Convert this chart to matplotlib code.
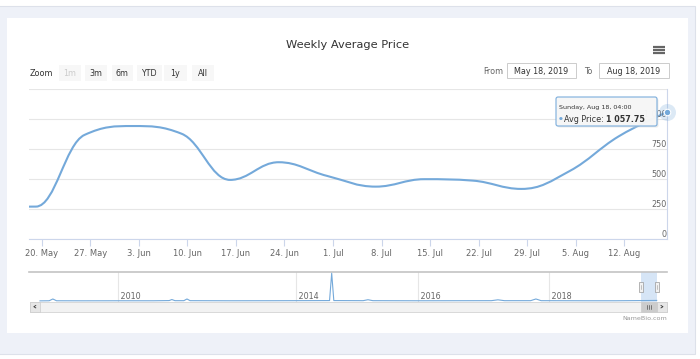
import numpy as np
import matplotlib
matplotlib.use("Agg")
import matplotlib.pyplot as plt
import matplotlib.dates as mdates
from matplotlib.path import Path
from matplotlib.patches import PathPatch, Rectangle, FancyBboxPatch
import pandas as pd

# weekly average price (points on Sundays, 04:00)
week_dates = pd.date_range("2019-05-12 04:00", "2019-08-18 04:00", freq="7D")
avg_price = [270, 272, 868, 942, 878, 494, 641, 527, 438, 500, 488, 419, 569, 855, 1057.75]

# full history shown in the navigator (fractional years)
nav_years = [2008.30, 2008.50, 2008.58, 2008.66, 2009.20, 2010.00, 2010.80, 2011.15, 2011.21,
             2011.28, 2011.48, 2011.55, 2011.62, 2012.50, 2013.50, 2014.55, 2014.585, 2014.62,
             2015.10, 2015.18, 2015.26, 2016.00, 2017.12, 2017.22, 2017.32, 2017.72, 2017.80,
             2017.88, 2018.60, 2019.00, 2019.38, 2019.63]
nav_values = [600, 700, 2600, 700, 650, 700, 700, 900, 2000, 800, 800, 2600, 800, 700, 750, 900,
              30000, 900, 800, 1800, 800, 700, 800, 1700, 800, 800, 2600, 800, 700, 700, 900, 1057]
nav_ticks = [2010, 2014, 2016, 2018]

zoom_buttons = ["1m", "3m", "6m", "YTD", "1y", "All"]
y_ticks = [0, 250, 500, 750, 1000, 1250]
range_from, range_to = "May 18, 2019", "Aug 18, 2019"

W, H = 700, 359
LINE = "#74a9da"
plt.rcParams["font.family"] = ["DejaVu Sans"]


def rect(x0, y0, x1, y1):
    return [x0 / W, 1 - y1 / H, (x1 - x0) / W, (y1 - y0) / H]


def hc_spline(xs, ys, smoothing=1.5):
    # same control points as the Highcharts spline series
    n = len(xs)
    left, right = list(zip(xs, ys)), list(zip(xs, ys))
    for i in range(1, n - 1):
        lx, ly, px, py, nx, ny = xs[i - 1], ys[i - 1], xs[i], ys[i], xs[i + 1], ys[i + 1]
        d = smoothing + 1
        lcx, lcy = (smoothing * px + lx) / d, (smoothing * py + ly) / d
        rcx, rcy = (smoothing * px + nx) / d, (smoothing * py + ny) / d
        corr = (rcy - lcy) * (rcx - px) / (rcx - lcx) + py - rcy
        lcy += corr
        rcy += corr
        if lcy > ly and lcy > py:
            lcy = max(ly, py); rcy = 2 * py - lcy
        elif lcy < ly and lcy < py:
            lcy = min(ly, py); rcy = 2 * py - lcy
        if rcy > ny and rcy > py:
            rcy = max(ny, py); lcy = 2 * py - rcy
        elif rcy < ny and rcy < py:
            rcy = min(ny, py); lcy = 2 * py - rcy
        left[i], right[i] = (lcx, lcy), (rcx, rcy)
    verts, codes = [(xs[0], ys[0])], [Path.MOVETO]
    for i in range(1, n):
        verts += [right[i - 1], left[i], (xs[i], ys[i])]
        codes += [Path.CURVE4] * 3
    return Path(verts, codes)


fig = plt.figure(figsize=(7, 3.59), dpi=100, facecolor="white")

# background / card / UI layer in pixel coordinates
bg = fig.add_axes([0, 0, 1, 1], zorder=0)
bg.set_xlim(0, W); bg.set_ylim(H, 0); bg.axis("off")
bg.add_patch(Rectangle((-2, 6), 697, 348, fc="#eef1f8", ec="#dde1ea", lw=0.8))
bg.add_patch(Rectangle((7.3, 18.3), 681, 314.4, fc="white", ec="none"))

bg.text(348, 45, "Weekly Average Price", ha="center", va="center", fontsize=8.2, color="#333333")
for yy in (47, 50, 53):
    bg.plot([653, 665], [yy, yy], color="#666666", lw=1.6, solid_capstyle="butt")

bg.text(29.5, 73, "Zoom", ha="left", va="center", fontsize=5.8, color="#333333")
btn_x = [(59, 80.7), (85, 107), (111.7, 133), (136.7, 161.7), (164, 186.7), (191.7, 214)]
for lab, (x0, x1) in zip(zoom_buttons, btn_x):
    bg.add_patch(Rectangle((x0, 65), x1 - x0, 16, fc="#f7f7f7", ec="none"))
    bg.text((x0 + x1) / 2, 73, lab, ha="center", va="center", fontsize=5.8,
            color="#cccccc" if lab == "1m" else "#333333")

bg.text(493, 71, "From", ha="center", va="center", fontsize=5.8, color="#666666")
bg.text(588, 71, "To", ha="center", va="center", fontsize=5.8, color="#666666")
for lab, (x0, x1) in zip([range_from, range_to], [(506.7, 576), (599.3, 668.7)]):
    bg.add_patch(Rectangle((x0, 63.3), x1 - x0, 15, fc="white", ec="#cccccc", lw=0.7))
    bg.text((x0 + x1) / 2, 71, lab, ha="center", va="center", fontsize=5.8, color="#333333")

# main chart
ax = fig.add_axes(rect(29, 89, 667, 239.3), zorder=1)
ax.set_facecolor("none")
xs = mdates.date2num(week_dates.to_pydatetime())
ax.add_patch(PathPatch(hc_spline(list(xs), avg_price), fill=False, ec=LINE, lw=1.5, zorder=3,
                       capstyle="round", joinstyle="round"))
ax.set_xlim(mdates.date2num(pd.Timestamp("2019-05-18 04:00")), xs[-1])
ax.set_ylim(0, 1250)
ax.set_yticks(y_ticks)
ax.grid(axis="y", color="#e6e6e6", lw=0.8)
ax.set_axisbelow(True)
for s in ("top", "left"):
    ax.spines[s].set_visible(False)
ax.spines["bottom"].set_color("#ccd6eb"); ax.spines["bottom"].set_linewidth(0.8)
ax.spines["right"].set_color("#ccd6eb"); ax.spines["right"].set_linewidth(0.8)
ax.tick_params(axis="y", length=0, labelleft=False, labelright=False)
for v in y_ticks[:-1]:
    ax.text(1.0, v, f"{v:,}".replace(",", " "), transform=ax.get_yaxis_transform(),
            ha="right", va="bottom", fontsize=5.8, color="#666666")
ax.xaxis.set_major_locator(mdates.WeekdayLocator(byweekday=mdates.MO))
ax.xaxis.set_major_formatter(plt.FuncFormatter(
    lambda v, p: f"{mdates.num2date(v).day}. {mdates.num2date(v).strftime('%b')}"))
ax.tick_params(axis="x", length=5, width=0.8, color="#ccd6eb", labelsize=6,
               labelcolor="#666666", pad=2)

# hovered point
ax.scatter([xs[-1]], [avg_price[-1]], s=150, color=LINE, alpha=0.25, lw=0, zorder=4, clip_on=False)
ax.scatter([xs[-1]], [avg_price[-1]], s=22, color=LINE, ec="white", lw=0.8, zorder=5, clip_on=False)

# navigator
nav_year_anchor = [2008.05, 2008.30, 2010, 2014, 2016, 2018, 2019.377, 2019.63, 2019.85]
nav_px_anchor = [29, 40, 118, 296, 418, 549, 640.7, 656.7, 667]
fwd = lambda v: np.interp(v, nav_year_anchor, nav_px_anchor)
inv = lambda v: np.interp(v, nav_px_anchor, nav_year_anchor)
nav = fig.add_axes(rect(29, 272.3, 667, 301.7), zorder=1)
nav.set_facecolor("none")
nav.set_xscale("function", functions=(fwd, inv))
nav.set_xlim(2008.05, 2019.85)
nav.set_ylim(-300, 31000)
nav.plot(nav_years, nav_values, color=LINE, lw=0.8, zorder=3)
for yr in nav_ticks:
    nav.axvline(yr, color="#e6e6e6", lw=0.8, zorder=1)
    nav.text(yr, 0.17, f" {yr}", transform=nav.get_xaxis_transform(), ha="left", va="center",
             fontsize=5.8, color="#666666")
nav.axvspan(2019.377, 2019.63, color="#cfe1f5", alpha=0.85, lw=0, zorder=2)
for s in nav.spines.values():
    s.set_visible(False)
nav.spines["top"].set_visible(True)
nav.spines["top"].set_color("#c4c4c4"); nav.spines["top"].set_linewidth(1.2)
nav.set_xticks([]); nav.set_yticks([])
nav.set_xticks([], minor=True)

# handles, scrollbar and credits drawn on the top layer
top = fig.add_axes([0, 0, 1, 1], zorder=3)
top.set_xlim(0, W); top.set_ylim(H, 0); top.axis("off")
for hx in (640.7, 656.7):
    top.add_patch(Rectangle((hx - 2.2, 282), 4.4, 10, fc="#f2f2f2", ec="#999999", lw=0.5))
    top.plot([hx, hx], [285, 289], color="#999999", lw=0.4)
top.add_patch(Rectangle((29.5, 301.7), 637.5, 10, fc="#f2f2f2", ec="#cccccc", lw=0.5))
top.add_patch(Rectangle((29.5, 301.7), 10.5, 10, fc="#e6e6e6", ec="#cccccc", lw=0.5))
top.add_patch(Rectangle((656.7, 301.7), 10.3, 10, fc="#e6e6e6", ec="#cccccc", lw=0.5))
top.add_patch(Rectangle((640.7, 301.7), 16, 10, fc="#cccccc", ec="#cccccc", lw=0.5))
for gx in (646.7, 648.7, 650.7):
    top.plot([gx, gx], [305, 308.5], color="#333333", lw=0.4)
top.plot([35.8, 33.8, 35.8], [305.5, 306.7, 307.9], color="#333333", lw=0.6)
top.plot([661, 663, 661], [305.5, 306.7, 307.9], color="#333333", lw=0.6)
top.text(667, 318, "NameBio.com", ha="right", va="center", fontsize=4.6, color="#999999")

# tooltip
top.add_patch(FancyBboxPatch((557.5, 98.5), 101, 29, boxstyle="round,pad=0,rounding_size=2",
                             fc="#d8d8d8", ec="none", alpha=0.5))
top.add_patch(FancyBboxPatch((556, 97), 101, 29, boxstyle="round,pad=0,rounding_size=2",
                             fc="#f7f7f7", ec=LINE, lw=0.8, alpha=0.95))
last = week_dates[-1]
top.text(559, 107.8, f"{last.strftime('%A')}, {last.strftime('%b')} {last.day}, {last.strftime('%H:%M')}",
         ha="left", va="center", fontsize=4.6, color="#333333")
top.text(559, 119, "\u25cf", ha="left", va="center", fontsize=3.2, color=LINE)
top.text(564, 119, "Avg Price:", ha="left", va="center", fontsize=5.8, color="#333333")
top.text(606.5, 119, f"{avg_price[-1]:,.2f}".replace(",", " "), ha="left", va="center",
         fontsize=5.8, color="#333333", fontweight="bold")

fig.savefig("out.png", dpi=100, facecolor="white")
